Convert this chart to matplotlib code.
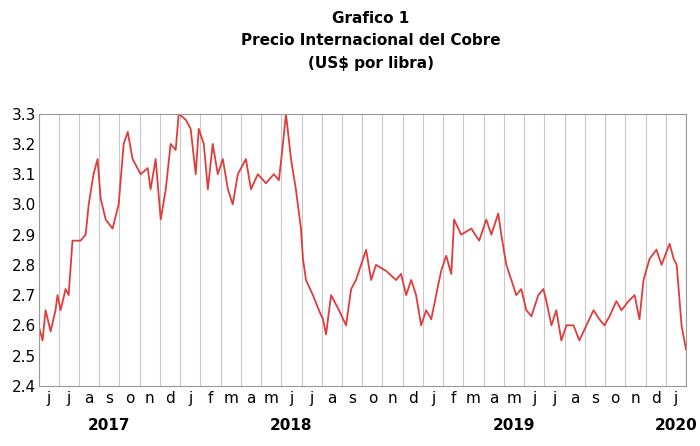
import numpy as np
import matplotlib.pyplot as plt

# months since start of Jun 2017, copper price US$/lb
t = [0, .2, .35, .6, .84, .94, 1.09, 1.34, 1.49, 1.68, 2.08, 2.33, 2.48, 2.72, 2.92, 3.07, 3.32, 3.66, 3.96,
     4.21, 4.41, 4.65, 5.05, 5.4, 5.54, 5.79, 6.04, 6.29, 6.53, 6.78, 6.93, 7.28, 7.52, 7.77, 7.92, 8.17, 8.37,
     8.61, 8.86, 9.11, 9.36, 9.6, 9.85, 10.25, 10.5, 10.84, 11.24, 11.63, 11.88, 12.08, 12.23, 12.48, 12.72,
     12.97, 13.07, 13.22, 13.56, 13.86, 14.06, 14.21, 14.46, 14.85, 15.2, 15.45, 15.69, 15.94, 16.19, 16.44,
     16.68, 17.18, 17.67, 17.92, 18.17, 18.42, 18.66, 18.91, 19.16, 19.41, 19.65, 19.9, 20.15, 20.4, 20.54,
     20.89, 21.39, 21.78, 22.13, 22.38, 22.72, 22.87, 23.12, 23.37, 23.61, 23.86, 24.11, 24.36, 24.7, 24.95,
     25.1, 25.35, 25.59, 25.84, 26.09, 26.44, 26.73, 27.08, 27.43, 27.72, 27.97, 28.22, 28.56, 28.81, 29.16,
     29.46, 29.7, 29.9, 30.2, 30.54, 30.79, 31.19, 31.39, 31.54, 31.78, 32.0]
price = [2.60, 2.55, 2.65, 2.58, 2.65, 2.70, 2.65, 2.72, 2.70, 2.88, 2.88, 2.90, 3.00, 3.10, 3.15, 3.02, 2.95,
         2.92, 3.00, 3.20, 3.24, 3.15, 3.10, 3.12, 3.05, 3.15, 2.95, 3.05, 3.20, 3.18, 3.30, 3.28, 3.25, 3.10,
         3.25, 3.20, 3.05, 3.20, 3.10, 3.15, 3.05, 3.00, 3.10, 3.15, 3.05, 3.10, 3.07, 3.10, 3.08, 3.20, 3.30,
         3.15, 3.05, 2.92, 2.82, 2.75, 2.70, 2.65, 2.62, 2.57, 2.70, 2.65, 2.60, 2.72, 2.75, 2.80, 2.85, 2.75,
         2.80, 2.78, 2.75, 2.77, 2.70, 2.75, 2.70, 2.60, 2.65, 2.62, 2.70, 2.78, 2.83, 2.77, 2.95, 2.90, 2.92,
         2.88, 2.95, 2.90, 2.97, 2.90, 2.80, 2.75, 2.70, 2.72, 2.65, 2.63, 2.70, 2.72, 2.68, 2.60, 2.65, 2.55,
         2.60, 2.60, 2.55, 2.60, 2.65, 2.62, 2.60, 2.63, 2.68, 2.65, 2.68, 2.70, 2.62, 2.75, 2.82, 2.85, 2.80,
         2.87, 2.82, 2.80, 2.60, 2.52]
month_labels = list("jjasond") + list("jfmamjjasond") * 2 + ["j"]
years = {"2017": 3.5, "2018": 12.5, "2019": 23.5, "2020": 31.5}

fig = plt.figure(figsize=(7, 4.46), dpi=100)
ax = fig.add_axes([0.055, 0.135, 0.925, 0.61])
ax.plot(t, price, color="#e03c3c", linewidth=1.3)
ax.set_xlim(0, 32)
ax.set_ylim(2.4, 3.3)
ax.set_yticks(np.arange(2.4, 3.31, 0.1))
ax.set_yticklabels([f"{v:.1f}" for v in np.arange(2.4, 3.31, 0.1)], fontsize=11)
ax.set_xticks(np.arange(32) + 0.5)
ax.set_xticklabels(month_labels, fontsize=11)
ax.set_xticks(np.arange(33), minor=True)
ax.grid(True, which="minor", axis="x", color="#c8c8c8", linewidth=0.8)
ax.tick_params(which="both", length=0)
ax.tick_params(axis="y", pad=2)
for s in ax.spines.values():
    s.set_color("#999999")
for y, x in years.items():
    ax.text(x, -0.12, y, transform=ax.get_xaxis_transform(), ha="center", va="top",
            fontsize=11, fontweight="bold")
fig.text(0.53, 0.975, "Grafico 1", ha="center", va="top", fontsize=11, fontweight="bold")
fig.text(0.53, 0.925, "Precio Internacional del Cobre", ha="center", va="top", fontsize=11, fontweight="bold")
fig.text(0.53, 0.875, "(US$ por libra)", ha="center", va="top", fontsize=11, fontweight="bold")
fig.savefig("out.png")
